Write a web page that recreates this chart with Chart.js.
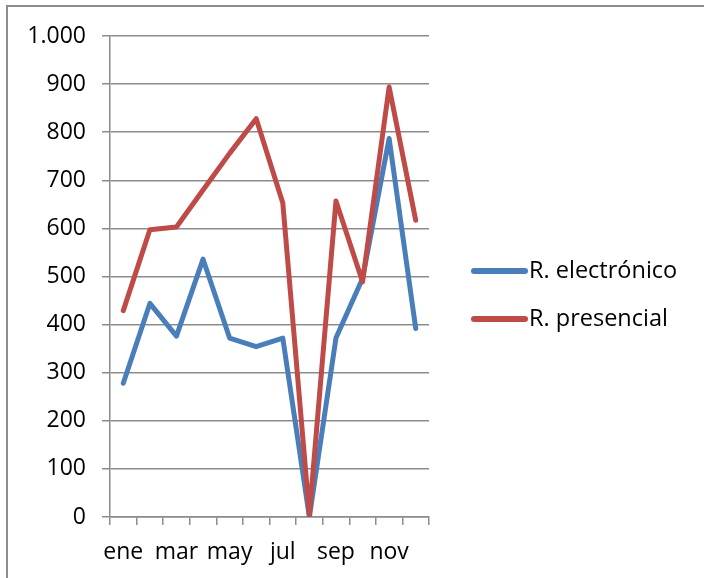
<!DOCTYPE html>
<html>
<head>
    <title>Registros</title>
    <script src="https://cdn.jsdelivr.net/npm/chart.js"></script>
    <style>
        html, body {
            margin: 0;
            padding: 0;
            background: #fff;
            overflow: hidden;
        }

        .frame {
            position: absolute;
            left: 6px;
            top: 5px;
            width: 800px;
            height: 700px;
            border: 2px solid #8c8c8c;
        }

        .chart-box {
            position: absolute;
            left: 0;
            top: 0;
            width: 704px;
            height: 578px;
        }
    </style>
</head>
<body>
    <div class="frame"></div>
    <div class="chart-box">
        <canvas id="graph" width="704" height="578"></canvas>
    </div>

    <script>
        // datos
        var meses = ["ene", "feb", "mar", "abr", "may", "jun", "jul", "ago", "sep", "oct", "nov", "dic"];
        var electronico = [278, 444, 376, 536, 372, 354, 372, 0, 372, 496, 787, 392];
        var presencial = [429, 597, 603, 680, 756, 828, 653, 5, 657, 489, 894, 617];
        var yTicks = [0, 100, 200, 300, 400, 500, 600, 700, 800, 900, 1000];

        var gris = "#8c8c8c";
        var fuente = "'Open Sans', 'Noto Sans', sans-serif";

        function formatoMiles(v) {
            return String(v).replace(/\B(?=(\d{3})+(?!\d))/g, ".");
        }

        // leyenda a la derecha, dibujada a mano
        var leyendaDerecha = {
            id: "leyendaDerecha",
            afterDraw: function (chart) {
                var ctx = chart.ctx;
                var sets = chart.data.datasets;
                ctx.save();
                ctx.font = "23.5px " + fuente;
                ctx.textBaseline = "middle";
                ctx.textAlign = "left";
                for (var i = 0; i < sets.length; i++) {
                    var y = 271 + i * 48;
                    ctx.strokeStyle = sets[i].borderColor;
                    ctx.lineWidth = 6;
                    ctx.lineCap = "round";
                    ctx.beginPath();
                    ctx.moveTo(474, y);
                    ctx.lineTo(525, y);
                    ctx.stroke();
                    ctx.fillStyle = "#000";
                    ctx.fillText(sets[i].label, 529, y);
                }
                ctx.restore();
            }
        };

        var ctx = document.getElementById("graph").getContext("2d");
        new Chart(ctx, {
            type: "line",
            data: {
                labels: meses,
                datasets: [{
                    label: "R. electrónico",
                    data: electronico,
                    borderColor: "#4a7ebb",
                    borderWidth: 5,
                    borderCapStyle: "round",
                    borderJoinStyle: "round",
                    pointRadius: 0,
                    tension: 0,
                    order: 1
                }, {
                    label: "R. presencial",
                    data: presencial,
                    borderColor: "#be4b48",
                    borderWidth: 5,
                    borderCapStyle: "round",
                    borderJoinStyle: "round",
                    pointRadius: 0,
                    tension: 0,
                    order: 0
                }]
            },
            options: {
                responsive: false,
                animation: false,
                layout: {
                    padding: { left: 0, right: 275, top: 36, bottom: 0 }
                },
                plugins: {
                    legend: { display: false },
                    tooltip: { enabled: false }
                },
                scales: {
                    x: {
                        offset: true,
                        afterFit: function (scale) { scale.height = 61; },
                        grid: {
                            offset: true,
                            drawOnChartArea: false,
                            drawTicks: true,
                            tickLength: 8,
                            color: gris,
                            lineWidth: 1.5
                        },
                        border: { color: gris, width: 1.5 },
                        ticks: {
                            autoSkip: false,
                            maxRotation: 0,
                            padding: 14,
                            color: "#000",
                            font: { family: fuente, size: 23 },
                            callback: function (val, i) {
                                return i % 2 === 0 ? meses[i] : "";
                            }
                        }
                    },
                    y: {
                        min: 0,
                        max: 1000,
                        afterFit: function (scale) { scale.width = 110; },
                        afterBuildTicks: function (scale) {
                            scale.ticks = yTicks.map(function (v) { return { value: v }; });
                        },
                        grid: {
                            drawTicks: true,
                            tickLength: 8,
                            color: gris,
                            lineWidth: 1.5
                        },
                        border: { color: gris, width: 1.5 },
                        ticks: {
                            padding: 16,
                            color: "#000",
                            font: { family: fuente, size: 23 },
                            callback: function (v) { return formatoMiles(v); }
                        }
                    }
                }
            },
            plugins: [leyendaDerecha]
        });
    </script>
</body>
</html>
